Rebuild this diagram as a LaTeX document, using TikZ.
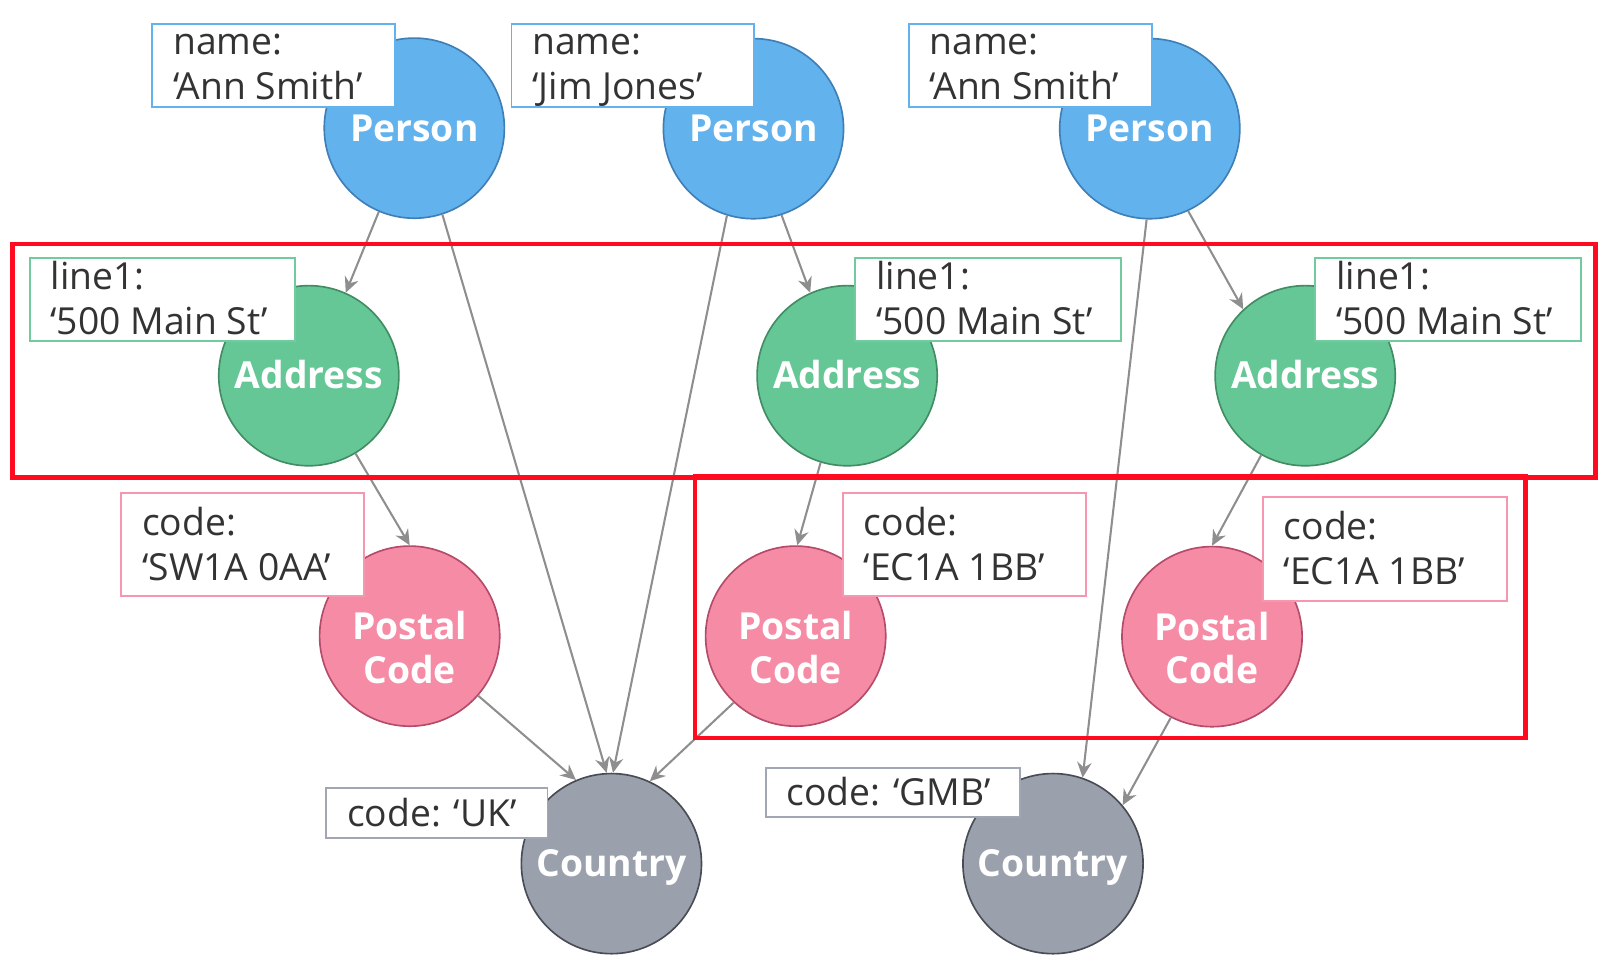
\documentclass[tikz,border=0pt]{standalone}
\usepackage{fontspec}
\setmainfont{Open Sans}
\usetikzlibrary{arrows.meta,calc}
\definecolor{pfill}{HTML}{62B2EE}
\definecolor{pline}{HTML}{3F7FB6}
\definecolor{afill}{HTML}{66C796}
\definecolor{aline}{HTML}{428C64}
\definecolor{abord}{HTML}{72CB9F}
\definecolor{cfill}{HTML}{F68BA6}
\definecolor{cline}{HTML}{B44B69}
\definecolor{cbord}{HTML}{F796AF}
\definecolor{gfill}{HTML}{9AA0AC}
\definecolor{gline}{HTML}{484C54}
\definecolor{gbord}{HTML}{A0A6B2}
\definecolor{edgec}{HTML}{8E8E8E}
\definecolor{redc}{HTML}{FF0A1E}
\definecolor{txtc}{HTML}{333333}
\begin{document}
\begin{tikzpicture}[x=1pt,y=-1pt,
  ent/.style={circle, minimum size=175pt, inner sep=0pt, line width=1.6pt, text=white,
    font=\fontsize{36.2}{43}\selectfont\bfseries, align=center, text height=25.8pt, text depth=0pt},
  person/.style={ent, fill=pfill, draw=pline},
  addr/.style={ent, fill=afill, draw=aline},
  postal/.style={ent, fill=cfill, draw=cline},
  country/.style={ent, fill=gfill, draw=gline},
  circtxt/.style={inner sep=0pt, text=white, font=\fontsize{36.2}{42.5}\selectfont\bfseries, align=center},
  pbox/.style={draw, fill=white, line width=1.8pt, anchor=north west, inner sep=0pt},
  ptxt/.style={anchor=base west, inner sep=0pt, text=txtc, font=\fontsize{36.2}{43}\selectfont},
  rel/.style={draw=edgec, line width=2pt, -{Stealth[length=15pt,width=14pt,inset=5pt]}},
  group/.style={draw=redc, line width=4.2pt}]
\useasboundingbox (0,0) rectangle (1568,940.4);

% circles
\node[person] (p1) at (402.5,124.5) {Person};
\node[person] (p2) at (732,125) {Person};
\node[person] (p3) at (1117,125) {Person};
\node[addr] (a1) at (300,365) {Address};
\node[addr] (a2) at (823,365) {Address};
\node[addr] (a3) at (1268,365) {Address};
\node[postal] (pc1) at (398,618) {};
\node[postal] (pc2) at (773,618) {};
\node[postal] (pc3) at (1177.5,618.5) {};
\node[circtxt] (pc1t) at ([yshift=-11pt]pc1.center) {Postal\\Code};
\node[circtxt] (pc2t) at ([yshift=-11pt]pc2.center) {Postal\\Code};
\node[circtxt] (pc3t) at ([yshift=-11pt]pc3.center) {Postal\\Code};
\node[country] (c1) at (594,839) {Country};
\node[country] (c2) at (1023,839) {Country};

% relationships
\draw[rel] (p1.247) -- (a1.66);
\draw[rel] (p1.288) -- (c1.93);
\draw[rel] (p2.253) -- (c1.89);
\draw[rel] (p2.288) -- (a2.114);
\draw[rel] (p3.268) -- (c2.71);
\draw[rel] (p3.295) -- (a3.133);
\draw[rel] (a1.301) -- (pc1.90);
\draw[rel] (a2.253) -- (pc2.89);
\draw[rel] (a3.241) -- (pc3.90);
\draw[rel] (pc1.319) -- (c1.113);
\draw[rel] (pc2.227) -- (c1.65);
\draw[rel] (pc3.243) -- (c2.40);

% property boxes
\node[pbox, draw=pfill, minimum width=236pt, minimum height=81pt] (nb1) at (147,22) {};
\node[pbox, draw=pfill, minimum width=236pt, minimum height=81pt] (nb2) at (496,22) {};
\node[pbox, draw=pfill, minimum width=236pt, minimum height=81pt] (nb3) at (882,22) {};
\node[pbox, draw=abord, minimum width=258pt, minimum height=80pt] (lb1) at (28,250) {};
\node[pbox, draw=abord, minimum width=258pt, minimum height=80pt] (lb2) at (830,250) {};
\node[pbox, draw=abord, minimum width=258pt, minimum height=80pt] (lb3) at (1277,250) {};
\node[pbox, draw=cbord, minimum width=236pt, minimum height=100pt] (cb1) at (117,478) {};
\node[pbox, draw=cbord, minimum width=236pt, minimum height=100pt] (cb2) at (818,478) {};
\node[pbox, draw=cbord, minimum width=237pt, minimum height=101pt] (cb3) at (1226,482) {};
\node[pbox, draw=gbord, minimum width=215pt, minimum height=48pt] (ukb) at (316,765) {};
\node[pbox, draw=gbord, minimum width=247pt, minimum height=48pt] (gmbb) at (743,745) {};

% property texts
\node[ptxt] (nb1a) at ($(nb1.north west)+(21,31.2)$) {name:};
\node[ptxt] (nb1b) at ($(nb1.north west)+(21,74.6)$) {‘Ann Smith’};
\node[ptxt] (nb2a) at ($(nb2.north west)+(21,31.2)$) {name:};
\node[ptxt] (nb2b) at ($(nb2.north west)+(21,74.6)$) {‘Jim Jones’};
\node[ptxt] (nb3a) at ($(nb3.north west)+(21,31.2)$) {name:};
\node[ptxt] (nb3b) at ($(nb3.north west)+(21,74.6)$) {‘Ann Smith’};
\node[ptxt] (lb1a) at ($(lb1.north west)+(21,31.2)$) {line1:};
\node[ptxt] (lb1b) at ($(lb1.north west)+(21,74.6)$) {‘500 Main St’};
\node[ptxt] (lb2a) at ($(lb2.north west)+(21,31.2)$) {line1:};
\node[ptxt] (lb2b) at ($(lb2.north west)+(21,74.6)$) {‘500 Main St’};
\node[ptxt] (lb3a) at ($(lb3.north west)+(21,31.2)$) {line1:};
\node[ptxt] (lb3b) at ($(lb3.north west)+(21,74.6)$) {‘500 Main St’};
\node[ptxt] (cb1a) at ($(cb1.north west)+(21,42.5)$) {code:};
\node[ptxt] (cb1b) at ($(cb1.north west)+(21,85.5)$) {‘SW1A 0AA’};
\node[ptxt] (cb2a) at ($(cb2.north west)+(21,42.5)$) {code:};
\node[ptxt] (cb2b) at ($(cb2.north west)+(21,85.5)$) {‘EC1A 1BB’};
\node[ptxt] (cb3a) at ($(cb3.north west)+(21,42.5)$) {code:};
\node[ptxt] (cb3b) at ($(cb3.north west)+(21,85.5)$) {‘EC1A 1BB’};
\node[ptxt] (ukt) at ($(ukb.north west)+(21,37.8)$) {code: ‘UK’};
\node[ptxt] (gmbt) at ($(gmbb.north west)+(21,37.8)$) {code: ‘GMB’};

% groups
\draw[group] (12,237) rectangle (1550,464);
\draw[group] (675,463) rectangle (1482,717);
\end{tikzpicture}
\end{document}
